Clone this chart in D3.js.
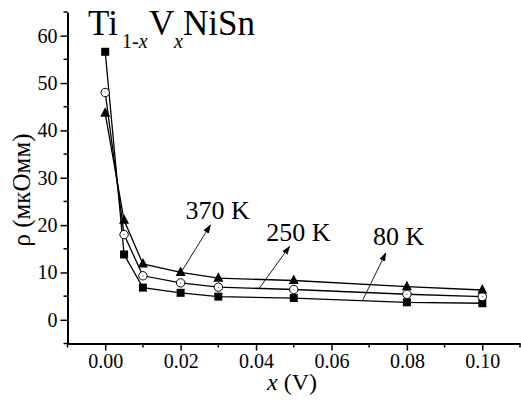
<!DOCTYPE html>
<html><head><meta charset="utf-8">
<script src="https://cdn.jsdelivr.net/npm/d3@7"></script>
<style>
html,body{margin:0;padding:0;background:#fff;}
svg{display:block;}
</style></head>
<body>
<script>
const xValues = [0, 0.005, 0.01, 0.02, 0.03, 0.05, 0.08, 0.10];
const rho80  = [56.6, 13.8, 6.8, 5.7, 4.9, 4.6, 3.7, 3.5];
const rho250 = [48.0, 18.0, 9.3, 7.8, 6.9, 6.4, 5.4, 4.9];
const rho370 = [43.6, 21.0, 11.8, 10.0, 8.8, 8.3, 7.0, 6.3];
const xTicks = [0, 0.02, 0.04, 0.06, 0.08, 0.10];
const yTicks = [0, 10, 20, 30, 40, 50, 60];
const labels = [
  {text: "370 K", x: 0.0213, y: 21.2, ax0: 0.0204, ay0: 10.4, ax1: 0.0279, ay1: 20.0},
  {text: "250 K", x: 0.0427, y: 16.6, ax0: 0.0409, ay0: 6.7, ax1: 0.0489, ay1: 15.5},
  {text: "80 K",  x: 0.0710, y: 15.7, ax0: 0.0683, ay0: 4.2, ax1: 0.0744, ay1: 14.1}
];

const FONT = "'Liberation Serif', 'Times New Roman', serif";
const W = 521, H = 405;
const svg = d3.select("body").append("svg").attr("width", W).attr("height", H).style("font-family", FONT);
const x = d3.scaleLinear().domain([-0.01, 0.11]).range([67.5, 520]);
const y = d3.scaleLinear().domain([-5, 65]).range([343.5, 12]);

// axes
const xAxis = svg.append("g").attr("transform", `translate(0,${y(-5)})`)
  .call(d3.axisBottom(x).tickValues(xTicks).tickFormat(d3.format(".2f")).tickSize(7).tickPadding(3).tickSizeOuter(0));
const yAxis = svg.append("g").attr("transform", `translate(${x(-0.01)},0)`)
  .call(d3.axisLeft(y).tickValues(yTicks).tickSize(7).tickPadding(3).tickSizeOuter(0));
[xAxis, yAxis].forEach(g => {
  g.style("font-family", FONT);
  g.select(".domain").attr("stroke", "#000").attr("stroke-width", 2);
  g.selectAll(".tick line").attr("stroke", "#000").attr("stroke-width", 1.5);
  g.selectAll(".tick text").style("font-family", FONT).attr("font-size", 20).attr("fill", "#000");
});
// minor ticks
const xMinor = [-0.01, 0.01, 0.03, 0.05, 0.07, 0.09, 0.11];
svg.append("g").selectAll("line").data(xMinor).join("line")
  .attr("x1", d => x(d)).attr("x2", d => x(d)).attr("y1", y(-5)).attr("y2", y(-5) + 4)
  .attr("stroke", "#000").attr("stroke-width", 1.5);
const yMinor = [-5, 5, 15, 25, 35, 45, 55, 65];
svg.append("g").selectAll("line").data(yMinor).join("line")
  .attr("x1", x(-0.01) - 4).attr("x2", x(-0.01)).attr("y1", d => y(d)).attr("y2", d => y(d))
  .attr("stroke", "#000").attr("stroke-width", 1.5);

// lines
const line = d3.line().x(d => x(d[0])).y(d => y(d[1]));
const series = [
  {vals: rho80, shape: "square"},
  {vals: rho250, shape: "circle"},
  {vals: rho370, shape: "triangle"}
];
series.forEach(s => {
  const pts = xValues.map((v, i) => [v, s.vals[i]]);
  svg.append("path").datum(pts).attr("d", line).attr("fill", "none").attr("stroke", "#000").attr("stroke-width", 1.3);
});
series.forEach(s => {
  const pts = xValues.map((v, i) => [v, s.vals[i]]);
  const g = svg.append("g");
  if (s.shape === "square") {
    g.selectAll("rect").data(pts).join("rect")
      .attr("x", d => x(d[0]) - 4).attr("y", d => y(d[1]) - 4).attr("width", 8).attr("height", 8).attr("fill", "#000");
  } else if (s.shape === "circle") {
    g.selectAll("circle.o").data(pts).join("circle").attr("class", "o")
      .attr("cx", d => x(d[0])).attr("cy", d => y(d[1])).attr("r", 4.2)
      .attr("fill", "#fff").attr("stroke", "#000").attr("stroke-width", 1);
    g.selectAll("circle.dot").data(pts).join("circle").attr("class", "dot")
      .attr("cx", d => x(d[0])).attr("cy", d => y(d[1])).attr("r", 0.6).attr("fill", "#555");
  } else {
    g.selectAll("path").data(pts).join("path")
      .attr("d", d => { const cx = x(d[0]), cy = y(d[1]); return `M${cx},${cy-6}L${cx+5},${cy+3.5}L${cx-5},${cy+3.5}Z`; })
      .attr("fill", "#000");
  }
});

// annotations
svg.append("defs").append("marker").attr("id", "ah").attr("viewBox", "0 0 10 10")
  .attr("refX", 9).attr("refY", 5).attr("markerWidth", 9).attr("markerHeight", 9)
  .attr("markerUnits", "userSpaceOnUse").attr("orient", "auto")
  .append("path").attr("d", "M0,1.5L10,5L0,8.5Z").attr("fill", "#000");
labels.forEach(l => {
  svg.append("line").attr("x1", x(l.ax0)).attr("y1", y(l.ay0)).attr("x2", x(l.ax1)).attr("y2", y(l.ay1))
    .attr("stroke", "#000").attr("stroke-width", 0.9).attr("marker-end", "url(#ah)");
  svg.append("text").attr("x", x(l.x)).attr("y", y(l.y)).style("font-family", FONT).attr("font-size", 26).attr("fill", "#000").text(l.text);
});

// title
const t = svg.append("text").attr("y", 35).style("font-family", FONT).attr("font-size", 35).attr("fill", "#000");
t.append("tspan").attr("x", 88).text("Ti");
t.append("tspan").attr("x", 122).attr("font-size", 20).attr("dy", 13).text("1-");
t.append("tspan").attr("font-size", 20).attr("font-style", "italic").text("x");
t.append("tspan").attr("x", 149).attr("dy", -13).text("V");
t.append("tspan").attr("x", 174).attr("font-size", 20).attr("font-style", "italic").attr("dy", 13).text("x");
t.append("tspan").attr("x", 183).attr("dy", -13).text("NiSn");

// axis titles
const xl = svg.append("text").attr("x", 292).attr("y", 390).attr("text-anchor", "middle").style("font-family", FONT).attr("font-size", 24).attr("fill", "#000");
xl.append("tspan").attr("font-style", "italic").text("x");
xl.append("tspan").text(" (V)");
svg.append("text").attr("transform", "translate(30,190) rotate(-90)").attr("text-anchor", "middle")
  .style("font-family", FONT).attr("font-size", 25).attr("fill", "#000").text("ρ (мкОмм)");
</script>
</body></html>
